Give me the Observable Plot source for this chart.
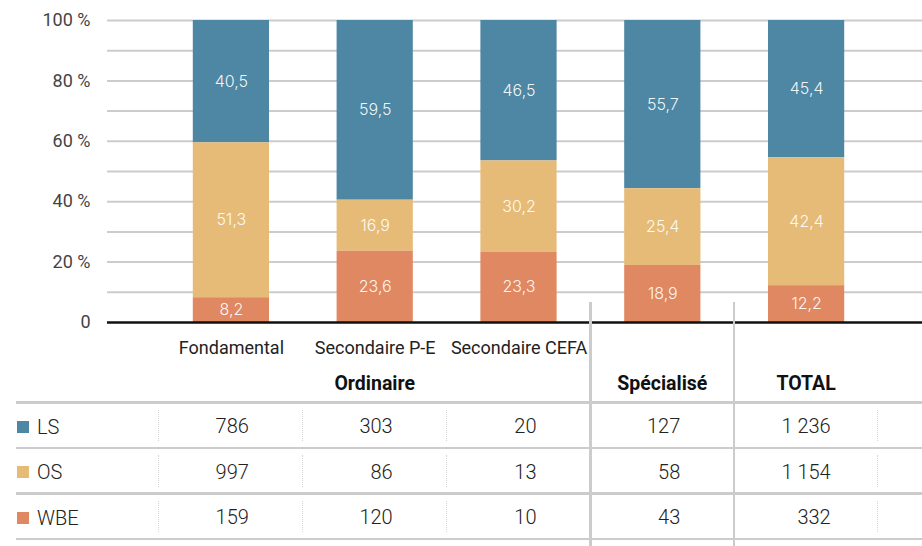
<!DOCTYPE html>
<html><head><meta charset="utf-8">
<script src="https://cdn.jsdelivr.net/npm/d3@7"></script>
<script src="https://cdn.jsdelivr.net/npm/@observablehq/plot@0.6"></script>
<style>
body{margin:0;background:#fff;font-family:Roboto, sans-serif;}
#wrap{position:relative;width:922px;height:546px;overflow:hidden;background:#fff;}
#wrap svg{position:absolute;left:0;top:0;}
.abs{position:absolute;box-sizing:border-box;}
</style></head><body><div id="wrap"></div>
<script>
// ---- data ----
const categories = ["Fondamental", "Secondaire P-E", "Secondaire CEFA", "Spécialisé", "TOTAL"];
const axisLabels = ["Fondamental", "Secondaire P-E", "Secondaire CEFA", "", ""];
const series = ["LS", "OS", "WBE"];
const seriesColors = ["#4d87a3", "#e6bb78", "#e08862"];
const pctLS  = [40.5, 59.5, 46.5, 55.7, 45.4];
const pctOS  = [51.3, 16.9, 30.2, 25.4, 42.4];
const pctWBE = [8.2, 23.6, 23.3, 18.9, 12.2];
const countLS  = [786, 303, 20, 127, 1236];
const countOS  = [997, 86, 13, 58, 1154];
const countWBE = [159, 120, 10, 43, 332];
const groupLabels = ["Ordinaire", "Spécialisé", "TOTAL"];
const groupSpans = [3, 1, 1];
const yTicks = [0, 20, 40, 60, 80, 100];
const yGrid = [10, 20, 30, 40, 50, 60, 70, 80, 90, 100];

// ---- build ----
const pct = {LS: pctLS, OS: pctOS, WBE: pctWBE};
const counts = {LS: countLS, OS: countOS, WBE: countWBE};
const data = series.flatMap(s => categories.map((c, i) => ({cat: c, group: s, value: pct[s][i]})));
const fmt1 = v => v.toFixed(1).replace(".", ",");
const stackOrder = ["WBE", "OS", "LS"];
const fmtInt = d3.formatLocale({decimal: ",", thousands: "\u00a0", grouping: [3], currency: ["", ""]}).format(",d");

const plot = Plot.plot({
  width: 922, height: 366,
  marginTop: 20, marginBottom: 44, marginLeft: 107, marginRight: 0,
  style: {fontFamily: "Roboto, sans-serif", background: "transparent", overflow: "visible"},
  x: {domain: categories, insetLeft: 52, insetRight: 44, paddingInner: 0.47, paddingOuter: 0.235, round: false, axis: null},
  y: {domain: [0, 100], axis: null},
  color: {domain: series, range: seriesColors},
  marks: [
    Plot.ruleY(yGrid, {stroke: "#cccccc", strokeWidth: 2}),
    Plot.barY(data, {x: "cat", y: "value", fill: "group", order: stackOrder}),
    Plot.text(data, Plot.stackY({x: "cat", y: "value", z: "group", order: stackOrder,
      text: d => fmt1(d.value), fill: "white", fillOpacity: 0.93, fontSize: 16, fontFamily: "Inter, Roboto, sans-serif", fontWeight: 300})),
    Plot.ruleY([0], {stroke: "#111", strokeWidth: 2.5}),
    Plot.axisY({ticks: yTicks, tickSize: 0, tickPadding: 17, tickFormat: d => d === 0 ? "0" : d + " %",
      fontSize: 18, fill: "#444", label: null}),
    Plot.axisX({tickSize: 0, tickPadding: 19, tickFormat: d => axisLabels[categories.indexOf(d)],
      fontSize: 18, fill: "#222", label: null})
  ]
});
const wrap = document.getElementById("wrap");
wrap.appendChild(plot);

// ---- table below, aligned on the plot's x scale ----
const xs = plot.scale("x");
const step = xs.step, bw = xs.bandwidth;
const left = i => xs.apply(categories[i]) - (step - bw) / 2;
const boundary = i => i < categories.length ? left(i) : left(categories.length - 1) + step;

const lineColor = "#cccccc";
const tableTop = 402.5, rowH = 45.5, headerTop = 366;
function div(style, text) {
  const e = document.createElement("div");
  e.className = "abs";
  Object.assign(e.style, style);
  if (text != null) e.textContent = text;
  wrap.appendChild(e);
  return e;
}
// horizontal row lines
for (let r = 0; r <= series.length; r++) {
  div({left: "16px", width: (922 - 16) + "px", top: (tableTop + r * rowH - 1.25) + "px", height: "2.5px", background: lineColor});
}
// dotted separators inside rows
[0, 1, 2, categories.length].forEach(i => {
  for (let r = 0; r < series.length; r++) {
    div({left: (boundary(i) - 0.75) + "px", top: (tableTop + r * rowH + 7) + "px", height: (rowH - 14) + "px",
      width: "0px", borderLeft: "1.5px dotted #d4d4d4"});
  }
});
// solid separators
[3, 4].forEach(i => {
  div({left: (boundary(i) - 1.25) + "px", top: "302px", height: (546 - 302) + "px", width: "2.5px", background: lineColor});
});
// group headers
let col = 0;
groupLabels.forEach((g, k) => {
  const x0 = boundary(col), x1 = boundary(col + groupSpans[k]);
  div({left: x0 + "px", width: (x1 - x0) + "px", top: headerTop + "px", height: (tableTop - headerTop) + "px",
    lineHeight: (tableTop - headerTop) + "px", textAlign: "center", fontWeight: 700, fontSize: "19.5px", color: "#111"}, g);
  col += groupSpans[k];
});
// series labels with legend squares
series.forEach((s, r) => {
  const cy = tableTop + r * rowH + rowH / 2 + 1.5;
  div({left: "17px", top: (cy - 6) + "px", width: "12px", height: "12px", background: seriesColors[r]});
  div({left: "37px", top: (cy - 15) + "px", height: "30px", lineHeight: "30px", fontSize: "20px", fontWeight: 300, color: "#222"}, s);
});
// numbers per column
categories.forEach((c, i) => {
  const colDiv = div({left: left(i) + "px", width: step + "px", top: (tableTop + 1.5) + "px", display: "flex", justifyContent: "center"});
  const inner = document.createElement("div");
  Object.assign(inner.style, {textAlign: "right", minWidth: "36px"});
  series.forEach(s => {
    const cell = document.createElement("div");
    Object.assign(cell.style, {height: rowH + "px", lineHeight: rowH + "px", fontSize: "20px", fontWeight: 300, color: "#222", whiteSpace: "nowrap"});
    cell.textContent = fmtInt(counts[s][i]);
    inner.appendChild(cell);
  });
  colDiv.appendChild(inner);
});
</script></body></html>
